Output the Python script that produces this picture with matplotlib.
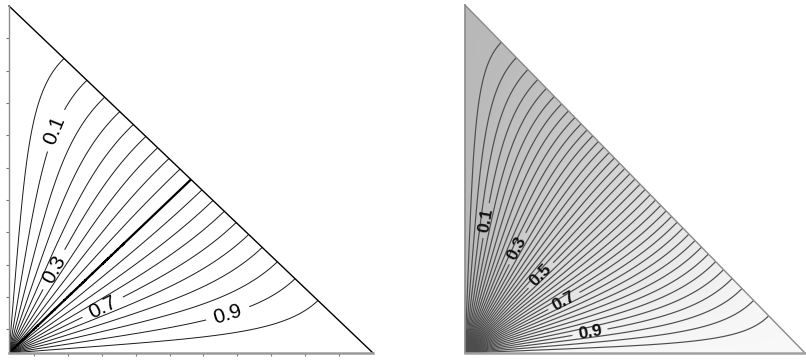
import numpy as np
import matplotlib
matplotlib.use("Agg")
import matplotlib.pyplot as plt
from matplotlib.patches import Polygon
from matplotlib.colors import LinearSegmentedColormap

# ---- data ----
left_levels = [0.05, 0.10, 0.15, 0.20, 0.25, 0.30, 0.35, 0.40, 0.45,
               0.55, 0.60, 0.65, 0.70, 0.75, 0.80, 0.85, 0.90, 0.95]
bold_level = [0.50]
left_labels = [0.1, 0.3, 0.7, 0.9]

right_levels = [0.025, 0.050, 0.075, 0.100, 0.125, 0.150, 0.175, 0.200,
                0.225, 0.250, 0.275, 0.300, 0.325, 0.350, 0.375, 0.400,
                0.425, 0.450, 0.475, 0.500, 0.525, 0.550, 0.575, 0.600,
                0.625, 0.650, 0.675, 0.700, 0.725, 0.750, 0.775, 0.800,
                0.825, 0.850, 0.875, 0.900, 0.925, 0.950, 0.975]
right_labels = [0.1, 0.3, 0.5, 0.7, 0.9]

tick_values = [0.069, 0.162, 0.255, 0.348, 0.441, 0.534, 0.627, 0.720, 0.814, 0.907]

# ---- label placement (layout) ----
left_label_pos = {0.1: (0.107, 0.650), 0.3: (0.126, 0.239),
                  0.7: (0.264, 0.118), 0.9: (0.602, 0.110)}
right_label_pos = {0.1: (0.065, 0.380), 0.3: (0.162, 0.296), 0.5: (0.229, 0.218),
                   0.7: (0.294, 0.144), 0.9: (0.368, 0.057)}

# ---- potential field: u=0 on left edge, u=1 on bottom edge, no-flux hypotenuse
# (solved by reflection to the unit square, Fourier series) ----
x = np.linspace(0, 1, 701)
y = np.linspace(0, 1, 701)
n = np.arange(1, 1200, 2)
a = n * np.pi
coef = 4.0 / a


def S(t):
    t = t[:, None]
    return np.exp(a[None, :] * (t - 1)) * (1 - np.exp(-2 * a[None, :] * t)) / (1 - np.exp(-2 * a[None, :]))


u_b = S(1 - y) @ (coef * np.sin(np.outer(x, a))).T
u_r = (coef * np.sin(np.outer(y, a))) @ S(x).T
U = u_b + u_r


def is_label(lev, labels):
    return any(abs(lev - l) < 1e-9 for l in labels)


fig = plt.figure(figsize=(8.06, 3.61), dpi=100)

# ---------------- left panel ----------------
axL = fig.add_axes([9 / 806, 8 / 361, 364 / 806, 347 / 361])
axL.set_xlim(0, 1)
axL.set_ylim(0, 1)
tri = Polygon([(0, 0), (1, 0), (0, 1)], closed=True, transform=axL.transData)
plain = [l for l in left_levels if not is_label(l, left_labels)]
csL = axL.contour(x, y, U, levels=plain, colors="#1a1a1a", linewidths=0.7)
csL.set_clip_path(tri)
csB = axL.contour(x, y, U, levels=bold_level, colors="black", linewidths=1.6)
csB.set_clip_path(tri)
for lev in left_labels:
    cs1 = axL.contour(x, y, U, levels=[lev], colors="#1a1a1a", linewidths=0.7)
    cs1.set_clip_path(tri)
    txts = axL.clabel(cs1, manual=[left_label_pos[lev]], inline=True,
                      fmt="%.1f", fontsize=15, colors="black", inline_spacing=6)
    for t in txts:
        t.set_family("Liberation Sans")
axL.plot([0, 1], [1, 0], color="black", lw=1.0, clip_on=False)
for s in ["top", "right"]:
    axL.spines[s].set_visible(False)
axL.spines["left"].set_color("#8c8c8c")
axL.spines["left"].set_linewidth(1.0)
axL.spines["bottom"].set_color("#9a9a9a")
axL.spines["bottom"].set_linewidth(1.8)
axL.set_xticks(tick_values)
axL.set_yticks(tick_values)
axL.set_xticklabels([])
axL.set_yticklabels([])
axL.tick_params(direction="out", length=2.5, width=0.8, color="#777777")

# ---------------- right panel ----------------
axR = fig.add_axes([465 / 806, 8 / 361, 340 / 806, 348 / 361])
axR.set_xlim(0, 1)
axR.set_ylim(0, 1)
axR.axis("off")
triR = Polygon([(0, 0), (1, 0), (0, 1)], closed=True, transform=axR.transData)
gray = LinearSegmentedColormap.from_list("g", ["#b8b8b8", "#f8f8f8"])
cf = axR.contourf(x, y, np.clip(U, 0, 1), levels=np.linspace(0, 1, 121), cmap=gray)
cf.set_clip_path(triR)
plainR = [l for l in right_levels if not is_label(l, right_labels)]
csR = axR.contour(x, y, U, levels=plainR, colors="#4d4d4d", linewidths=0.85)
csR.set_clip_path(triR)
for lev in right_labels:
    cs1 = axR.contour(x, y, U, levels=[lev], colors="#4d4d4d", linewidths=0.85)
    cs1.set_clip_path(triR)
    txts = axR.clabel(cs1, manual=[right_label_pos[lev]], inline=True,
                      fmt="%.1f", fontsize=12.5, colors="#111111", inline_spacing=4)
    for t in txts:
        t.set_family("Liberation Sans")
        t.set_fontweight("bold")
axR.plot([0, 0], [0, 1], color="#8a8a8a", lw=1.2, clip_on=False)
axR.plot([0, 1], [1, 0], color="#8a8a8a", lw=1.0, clip_on=False)
axR.plot([0, 1], [0, 0], color="#a0a0a0", lw=1.8, clip_on=False)

fig.savefig("out.png", dpi=100)
